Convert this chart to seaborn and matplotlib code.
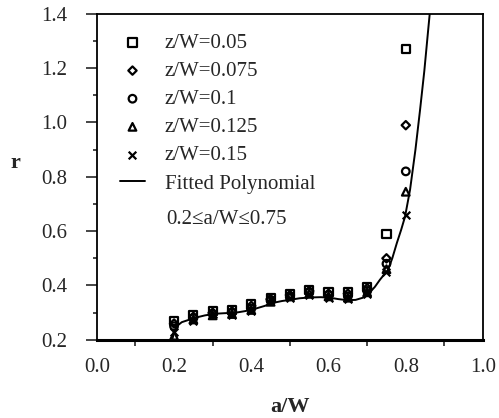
import numpy as np
import pandas as pd
import matplotlib
matplotlib.use("Agg")
import matplotlib.pyplot as plt
import seaborn as sns

# ---- data ----
a_pts = [0.20, 0.25, 0.30, 0.35, 0.40, 0.45, 0.50, 0.55, 0.60, 0.65, 0.70, 0.75, 0.80]
r_005 = [0.27, 0.29, 0.305, 0.31, 0.33, 0.355, 0.37, 0.385, 0.375, 0.375, 0.395, 0.59, 1.27]
r_0075 = [0.26, 0.285, 0.30, 0.305, 0.325, 0.35, 0.365, 0.38, 0.37, 0.37, 0.39, 0.50, 0.99]
r_01 = [0.25, 0.28, 0.295, 0.30, 0.315, 0.345, 0.36, 0.375, 0.365, 0.36, 0.38, 0.48, 0.82]
r_0125 = [0.215, 0.275, 0.29, 0.295, 0.31, 0.34, 0.36, 0.37, 0.36, 0.355, 0.375, 0.46, 0.745]
r_015 = [0.23, 0.27, 0.295, 0.29, 0.305, 0.35, 0.355, 0.365, 0.355, 0.35, 0.37, 0.45, 0.66]
series_labels = ["z/W=0.05", "z/W=0.075", "z/W=0.1", "z/W=0.125", "z/W=0.15"]

fit_a = [0.195, 0.200, 0.206, 0.22, 0.254, 0.28, 0.306, 0.33, 0.36, 0.385, 0.409, 0.435,
         0.456, 0.48, 0.50, 0.525, 0.552, 0.58, 0.604, 0.625, 0.648, 0.67, 0.689, 0.707,
         0.72, 0.733, 0.754, 0.765, 0.777, 0.788, 0.798, 0.811, 0.825, 0.837, 0.848,
         0.858, 0.866]
fit_r = [0.20, 0.225, 0.249, 0.265, 0.281, 0.290, 0.296, 0.298, 0.300, 0.306, 0.314, 0.325,
         0.336, 0.343, 0.347, 0.353, 0.356, 0.357, 0.355, 0.350, 0.346, 0.347, 0.355, 0.375,
         0.395, 0.421, 0.458, 0.50, 0.557, 0.605, 0.653, 0.752, 0.90, 1.047, 1.19,
         1.341, 1.46]
fit_label = "Fitted Polynomial"
range_text = "0.2\u2264a/W\u22640.75"

x_ticks = [0.0, 0.2, 0.4, 0.6, 0.8, 1.0]
y_ticks = [0.2, 0.4, 0.6, 0.8, 1.0, 1.2, 1.4]

# ---- style ----
sns.set_style("ticks")
plt.rcParams["font.family"] = ["Liberation Serif", "DejaVu Serif"]

fig = plt.figure(figsize=(4.99, 4.18), dpi=100)
ax = fig.add_axes([0.194, 0.187, 0.774, 0.780])

markers = ["s", "D", "o", "^", "x"]
sizes = [34, 18, 30, 30, 30]
all_r = [r_005, r_0075, r_01, r_0125, r_015]
for lab, m, s, rv in zip(series_labels, markers, sizes, all_r):
    df = pd.DataFrame({"a": a_pts, "r": rv})
    if m == "x":
        sns.scatterplot(data=df, x="a", y="r", marker=m, s=s, color="black",
                        linewidth=1.6, ax=ax, label=lab, zorder=3)
    else:
        sns.scatterplot(data=df, x="a", y="r", marker=m, s=s, facecolor="none",
                        edgecolor="black", linewidth=1.6, ax=ax, label=lab, zorder=3)

fit_df = pd.DataFrame({"a": fit_a, "r": fit_r})
sns.lineplot(data=fit_df, x="a", y="r", sort=False, color="black", linewidth=1.4,
             ax=ax, label=fit_label, zorder=2)

ax.set_xlim(0.0, 1.0)
ax.set_ylim(0.2, 1.4)

ax.set_xticks(x_ticks)
ax.set_xticklabels([f"{v:.1f}" for v in x_ticks])
ax.set_xticks([0.1, 0.3, 0.5, 0.7, 0.9], minor=True)
ax.set_yticks(y_ticks)
ax.set_yticklabels([f"{v:.1f}" for v in y_ticks])
ax.set_yticks([0.3, 0.5, 0.7, 0.9, 1.1, 1.3], minor=True)

ax.tick_params(axis="x", which="major", length=0, pad=13, labelsize=15)
ax.tick_params(axis="x", which="minor", length=4, width=1.2, direction="out")
ax.tick_params(axis="y", which="major", length=8, width=1.2, direction="out", pad=13, labelsize=15)
ax.tick_params(axis="y", which="minor", length=3, width=1.2, direction="out")

for side in ["top", "right", "left"]:
    ax.spines[side].set_visible(True)
    ax.spines[side].set_linewidth(1.3)
    ax.spines[side].set_color("black")
ax.spines["bottom"].set_linewidth(2.2)
ax.spines["bottom"].set_color("black")

ax.set_xlabel("a/W", fontsize=16, fontweight="bold")
ax.xaxis.set_label_coords(0.5, -0.175)
ax.set_ylabel("r", fontsize=16, fontweight="bold", rotation=0, ha="center", va="center")
ax.yaxis.set_label_coords(-0.212, 0.543)

leg = ax.legend(loc="upper left", bbox_to_anchor=(0.06, 0.94), frameon=False,
                fontsize=15, handlelength=1.2, handletextpad=0.95, labelspacing=0.41,
                borderpad=0, borderaxespad=0)

ax.text(0.181, 0.368, range_text, transform=ax.transAxes, fontsize=15,
        ha="left", va="center")

fig.savefig("out.png", dpi=100)
